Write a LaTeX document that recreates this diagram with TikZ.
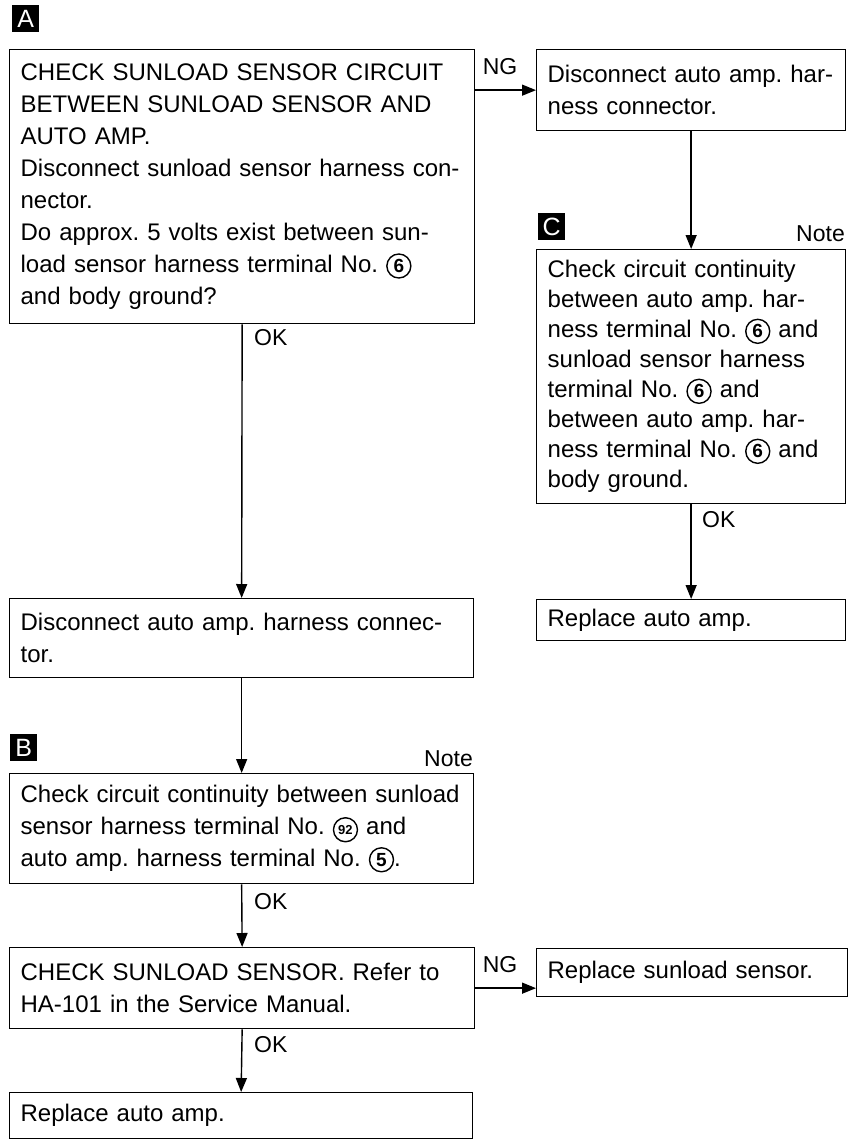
\documentclass[tikz,border=0pt]{standalone}
\usepackage{fontspec}
\setmainfont{Liberation Sans}
\usetikzlibrary{arrows.meta}
\newcommand\cnum[1]{\tikz[baseline=(cn.base)]\node[circle,draw,line width=1.4pt,inner sep=0pt,minimum size=24pt,font=\fontsize{19}{19}\selectfont\bfseries](cn){#1};}
\newcommand\cnumsm[1]{\tikz[baseline=(cn.base)]\node[circle,draw,line width=1.4pt,inner sep=0pt,minimum size=24pt,font=\fontsize{13}{13}\selectfont\bfseries](cn){#1};}
\tikzset{
  box/.style={draw,line width=1.3pt,anchor=north west,align=left,inner xsep=11pt,inner ysep=0pt,font=\fontsize{24}{32}\selectfont},
  conn/.style={line width=1.4pt,-{Triangle[length=14pt,width=11pt]}},
  lbl/.style={font=\fontsize{23}{23}\selectfont,inner sep=0pt},
  tagbox/.style={fill=black,text=white,minimum size=27pt,inner sep=0pt,anchor=north west,font=\fontsize{25}{25}\selectfont}
}
\begin{document}
\frenchspacing
\begin{tikzpicture}[x=1pt,y=-1pt]
\useasboundingbox (0,0) rectangle (852,1140);
% tags
\node[tagbox] (tA) at (12,5) {A};
\node[tagbox] (tB) at (10,734) {B};
\node[tagbox] (tC) at (538,213) {C};
% boxes
\node[box,text width=443pt,minimum height=274pt] (A) at (9,49) {CHECK SUNLOAD SENSOR CIRCUIT\\BETWEEN SUNLOAD SENSOR AND\\AUTO AMP.\\Disconnect sunload sensor harness con-\\nector.\\Do approx. 5 volts exist between sun-\\load sensor harness terminal No. \cnum{6}\\and body ground?};
\node[box,text width=287pt,minimum height=81pt] (D1) at (536,49) {Disconnect auto amp. har-\\ness connector.};
\node[box,text width=287pt,minimum height=254pt,font=\fontsize{24}{30}\selectfont] (C) at (536,249) {Check circuit continuity\\between auto amp. har-\\ness terminal No. \cnum{6} and\\sunload sensor harness\\terminal No. \cnum{6} and\\between auto amp. har-\\ness terminal No. \cnum{6} and\\body ground.};
\node[box,text width=287pt,minimum height=41pt] (R1) at (536,599) {Replace auto amp.};
\node[box,text width=442pt,minimum height=79pt] (D2) at (9,598) {Disconnect auto amp. harness connec-\\tor.};
\node[box,text width=442pt,minimum height=110pt] (B) at (9,773) {Check circuit continuity between sunload\\sensor harness terminal No. \cnumsm{92} and\\auto amp. harness terminal No. \cnum{5}.};
\node[box,text width=443pt,minimum height=81pt] (S) at (9,947) {CHECK SUNLOAD SENSOR. Refer to\\HA-101 in the Service Manual.};
\node[box,text width=289pt,minimum height=48pt] (RS) at (536,948) {Replace sunload sensor.};
\node[box,text width=441pt,minimum height=46pt] (RA) at (9,1092) {Replace auto amp.};
% notes
\node[lbl,anchor=base east] (nC) at (845,241) {Note};
\node[lbl,anchor=base east] (nB) at (473,766) {Note};
% connectors
\draw[conn] (D1.west -| A.east) -- (D1.west);
\node[lbl] (ng1) at (500,67) {NG};
\draw[conn] (D1.south) -- (C.north);
\draw[conn] (C.south) -- (R1.north);
\node[lbl,anchor=west] (ok1) at (702,520) {OK};
\draw[conn] (A.south) -- (D2.north);
\node[lbl,anchor=west] (ok2) at (254,338) {OK};
\draw[conn] (D2.south) -- (B.north);
\draw[conn] (B.south) -- (S.north);
\node[lbl,anchor=west] (ok3) at (254,902) {OK};
\draw[conn] (S.east) -- (S.east -| RS.west);
\node[lbl] (ng2) at (500,965) {NG};
\draw[conn] (S.south) -- (RA.north);
\node[lbl,anchor=west] (ok4) at (254,1045) {OK};
\end{tikzpicture}
\end{document}
